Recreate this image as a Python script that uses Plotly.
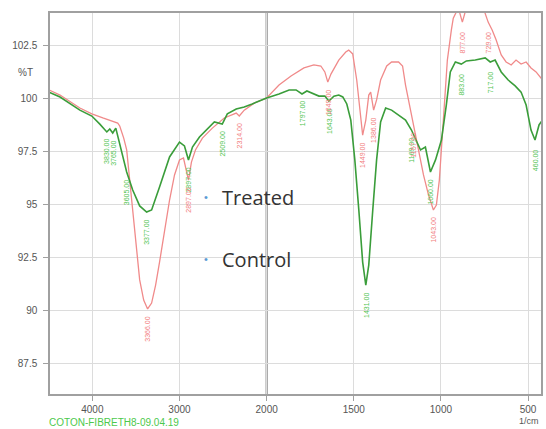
import numpy as np
import plotly.graph_objects as go

# ---------------- data (wavenumber cm-1, %T) ----------------
treated_w = [4497, 4371, 4143, 4006, 3914, 3834, 3800, 3766, 3731, 3686, 3606, 3537, 3457, 3377, 3320,
             3229, 3114, 3000, 2943, 2897, 2851, 2771, 2691, 2600, 2509, 2451, 2349, 2257, 2166, 2086,
             2000, 1929, 1871, 1831, 1797, 1769, 1700, 1666, 1643, 1614, 1586, 1563, 1540, 1517, 1494,
             1471, 1449, 1431, 1414, 1391, 1369, 1346, 1317, 1283, 1243, 1203, 1169, 1140, 1117, 1089,
             1060, 1031, 997, 969, 946, 917, 883, 854, 803, 746, 717, 689, 654, 614, 574, 540, 511,
             483, 460, 437, 409]
treated_t = [100.28, 100.05, 99.43, 99.15, 98.77, 98.40, 98.54, 98.35, 98.58, 97.78, 96.51, 95.66, 94.91, 94.62, 94.72,
             95.80, 97.22, 97.92, 97.74, 97.08, 97.69, 98.16, 98.49, 98.87, 98.77, 99.25, 99.48, 99.58, 99.72, 99.86,
             100.0, 100.19, 100.38, 100.38, 100.19, 100.33, 100.09, 100.09, 99.86, 100.09, 100.14, 100.05, 99.72, 98.96, 97.08,
             94.72, 92.26, 91.18, 92.12, 94.72, 97.08, 98.87, 99.53, 99.43, 99.20, 98.96, 98.49, 97.92, 97.55, 97.69,
             96.51, 97.08, 98.02, 99.67, 101.23, 101.70, 101.60, 101.75, 101.79, 101.89, 101.70, 101.79, 101.23, 100.85, 100.57, 100.28, 99.67,
             98.49, 98.02, 98.73, 99.06]

control_w = [4497, 4371, 4143, 4006, 3880, 3766, 3709, 3686, 3640, 3606, 3571, 3537, 3491, 3457, 3411,
             3366, 3320, 3274, 3229, 3171, 3114, 3057, 3000, 2954, 2920, 2897, 2863, 2817, 2737, 2623,
             2486, 2349, 2314, 2257, 2143, 2000, 1929, 1860, 1786, 1729, 1689, 1666, 1649, 1631, 1586,
             1546, 1529, 1506, 1483, 1466, 1449, 1431, 1414, 1403, 1386, 1369, 1346, 1311, 1283, 1243,
             1220, 1203, 1180, 1157, 1129, 1100, 1071, 1043, 1026, 1009, 986, 963, 940, 929, 900, 877,
             849, 797, 757, 729, 706, 683, 654, 626, 597, 569, 540, 511, 483, 454, 426, 409]
control_t = [100.38, 100.14, 99.53, 99.25, 99.06, 98.92, 98.82, 98.68, 98.11, 97.55, 96.13, 94.58, 92.59, 91.42, 90.47,
             90.05, 90.33, 91.18, 92.26, 93.77, 95.19, 96.37, 97.08, 97.17, 96.60, 96.13, 96.98, 97.55, 98.11, 98.58,
             99.06, 99.29, 99.15, 99.43, 99.76, 100.0, 100.61, 101.04, 101.42, 101.56, 101.51, 101.23, 100.75, 101.13, 101.79,
             102.17, 102.26, 102.08, 100.85, 99.43, 98.25, 98.96, 100.14, 100.28, 99.43, 99.91, 100.85, 101.51, 101.70, 101.70,
             101.51, 100.61, 99.67, 98.73, 97.55, 96.37, 95.42, 94.72, 94.95, 96.13, 98.96, 101.79, 103.21, 103.77, 104.25, 103.58,
             104.4, 104.5, 104.25, 103.58, 103.21, 102.74, 102.03, 101.70, 101.56, 101.79, 101.60, 101.70, 101.42, 101.23, 100.94, 100.85]

treated_peaks = [3830, 3765, 3605, 3377, 2897, 2509, 1797, 1643, 1431, 1169, 1060, 883, 717, 460]
control_peaks = [3366, 2897, 2314, 1649, 1449, 1386, 1157, 1043, 877, 729]

x_ticks = [4000, 3000, 2000, 1500, 1000, 500]
y_ticks = [87.5, 90, 92.5, 95, 97.5, 100, 102.5]
y_ticktext = ["87.5", "90", "92.5", "95", "97.5", "100", "102.5"]


# scale change at 2000 cm-1 (the region above 2000 is compressed by 2)
def u(w):
    w = np.asarray(w, dtype=float)
    return np.where(w <= 2000, w, 2000 + (w - 2000) / 2.0)


GREEN = "#3a9d3a"
RED = "#f08a8a"

fig = go.Figure()
fig.add_trace(go.Scatter(x=u(control_w), y=control_t, mode="lines",
                         line=dict(color=RED, width=1.3), name="Control", showlegend=False))
fig.add_trace(go.Scatter(x=u(treated_w), y=treated_t, mode="lines",
                         line=dict(color=GREEN, width=1.6), name="Treated", showlegend=False))

annotations = []


def peak_labels(peaks, ws, ts, color):
    ws_a = np.array(ws)[::-1]
    ts_a = np.array(ts)[::-1]
    for p in peaks:
        val = float(np.interp(p, ws_a, ts_a))
        annotations.append(dict(x=float(u(p)), y=val - 0.95, xref="x", yref="y",
                                text=f"{p:.2f}", textangle=-90, showarrow=False,
                                xanchor="center", yanchor="middle",
                                font=dict(family="Liberation Sans", size=7, color=color)))


peak_labels(treated_peaks, treated_w, treated_t, "#52c452")
peak_labels(control_peaks, control_w, control_t, "#f27d7d")

# pseudo-legend
for txt, ypx in [("Treated", 197), ("Control", 259)]:
    yp = (394 - ypx) / 381.0
    annotations.append(dict(x=(207 - 50) / 493.0, y=yp, xref="paper", yref="paper", text="•",
                            showarrow=False, xanchor="center", yanchor="middle",
                            font=dict(size=11, color="#5b9bd5")))
    annotations.append(dict(x=(221 - 50) / 493.0, y=yp, xref="paper", yref="paper", text=txt,
                            showarrow=False, xanchor="left", yanchor="middle",
                            font=dict(family="Open Sans", size=20, color="#333333")))

annotations.append(dict(x=(25 - 50) / 493.0, y=(394 - 72) / 381.0, xref="paper", yref="paper",
                        text="%T", showarrow=False, xanchor="center", yanchor="middle",
                        font=dict(family="Liberation Sans", size=10, color="#555555")))
annotations.append(dict(x=(519 - 50) / 493.0, y=(394 - 421) / 381.0, xref="paper", yref="paper",
                        text="1/cm", showarrow=False, xanchor="left", yanchor="middle",
                        font=dict(family="Liberation Sans", size=9, color="#555555")))
annotations.append(dict(x=(47 - 50) / 493.0, y=(394 - 422) / 381.0, xref="paper", yref="paper",
                        text="COTON-FIBRETH8-09.04.19", showarrow=False, xanchor="left", yanchor="middle",
                        font=dict(family="Liberation Sans", size=10, color="#4cc94c")))

fig.update_layout(
    width=546, height=429,
    margin=dict(l=50, r=3, t=13, b=35),
    paper_bgcolor="white", plot_bgcolor="white",
    annotations=annotations,
    shapes=[dict(type="line", xref="x", yref="paper", x0=2000, x1=2000, y0=0, y1=1,
                 line=dict(color="#7a7a7a", width=2), layer="below")],
    font=dict(family="Liberation Sans"),
)
fig.update_xaxes(range=[float(u(4486)), 425.7], tickvals=list(u(x_ticks)),
                 ticktext=[str(t) for t in x_ticks], showgrid=True, gridcolor="#dcdcdc", gridwidth=1,
                 showline=True, linecolor="#a0a0a0", linewidth=1.5, mirror=True,
                 ticks="outside", ticklen=5, tickcolor="#a0a0a0",
                 tickfont=dict(size=10, color="#555555"), zeroline=False)
fig.update_yaxes(range=[86.04, 104.01], tickvals=y_ticks, ticktext=y_ticktext,
                 showgrid=True, gridcolor="#dcdcdc", gridwidth=1,
                 showline=True, linecolor="#a0a0a0", linewidth=1.5, mirror=True,
                 ticks="outside", ticklen=5, tickcolor="#a0a0a0", ticklabelstandoff=4,
                 tickfont=dict(size=10, color="#555555"), zeroline=False)

fig.write_html("out.html")
